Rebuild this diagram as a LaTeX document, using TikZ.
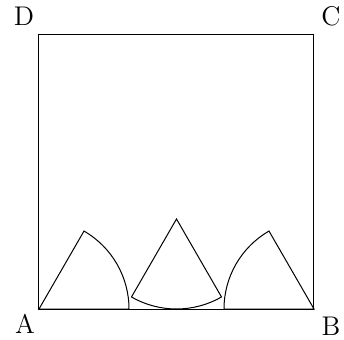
\documentclass[tikz,border=0pt]{standalone}
\begin{document}
\begin{tikzpicture}[x=1pt,y=1pt,line width=0.5pt,
  lbl/.style={inner sep=0pt,font=\fontsize{13.5}{16}\selectfont}]
\useasboundingbox (-19.5,-15) rectangle (152.5,154.5);
\coordinate (A) at (0,0);
\coordinate (B) at (137.5,0);
\coordinate (C) at (137.5,137.5);
\coordinate (D) at (0,137.5);
\coordinate (M) at (68.75,45);
\draw (A) -- (B) -- (C) -- (D) -- cycle;
% sectors
\draw (A) -- ++(0:45) arc[start angle=0,end angle=60,radius=45] -- cycle;
\draw (M) -- ++(240:45) arc[start angle=240,end angle=300,radius=45] -- cycle;
\draw (B) -- ++(180:45) arc[start angle=180,end angle=120,radius=45] -- cycle;
\node[lbl] (lA) at (-7,-7.5) {A};
\node[lbl] (lB) at (146,-8.5) {B};
\node[lbl] (lC) at (146,146.5) {C};
\node[lbl] (lD) at (-7.5,146.5) {D};
\end{tikzpicture}
\end{document}
